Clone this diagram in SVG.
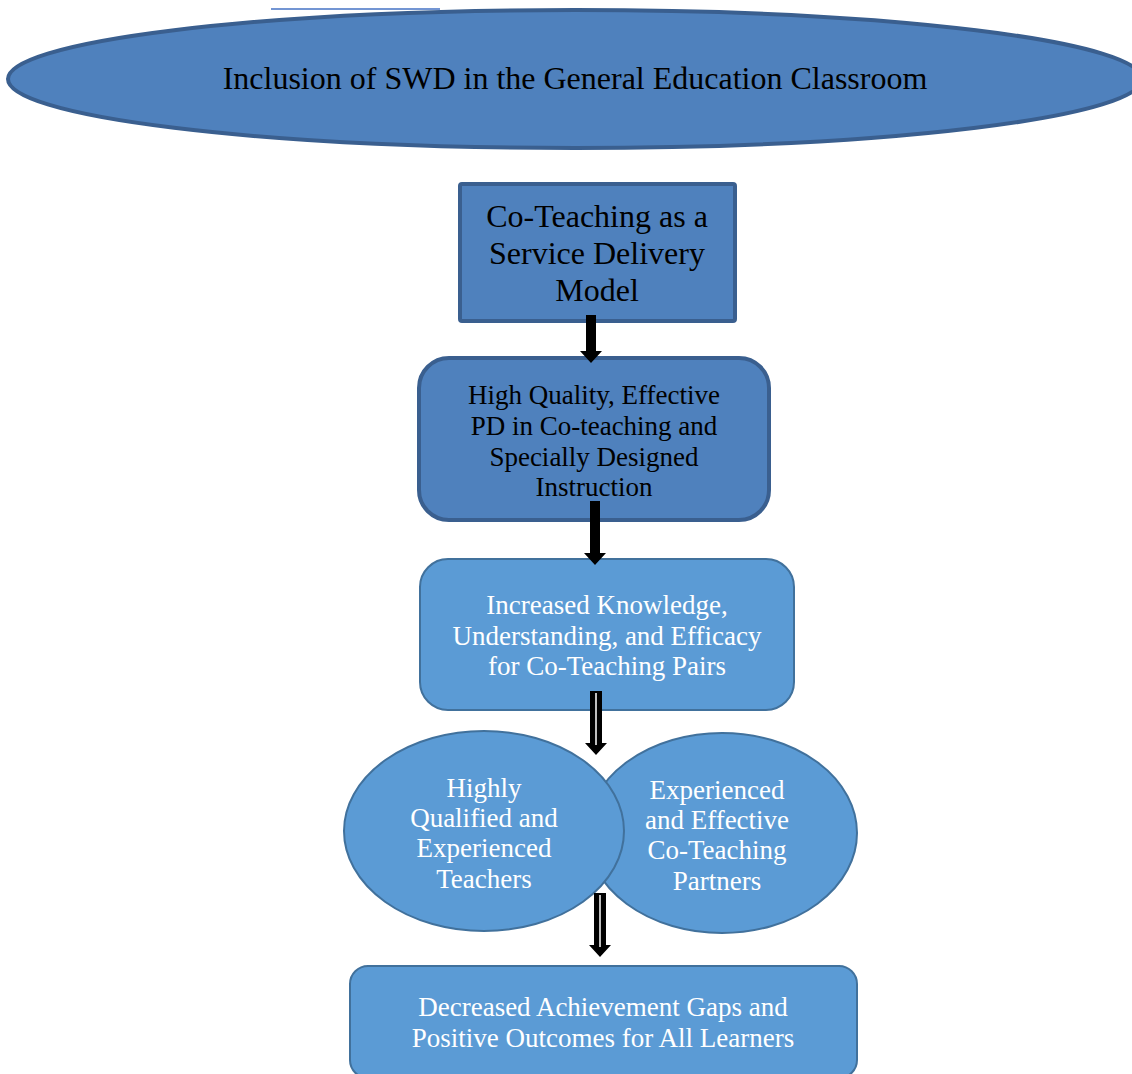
<svg xmlns="http://www.w3.org/2000/svg" width="1132" height="1074" viewBox="0 0 1132 1074">
<style>
text{font-family:"Liberation Serif","Times New Roman",serif;text-anchor:middle}
.dk{fill:#4f81bd;stroke:#3a5f8f;stroke-width:4}
.lt{fill:#5b9bd5;stroke:#41719c;stroke-width:2}
.bt{fill:#000;font-size:27px}
.wt{fill:#fff;font-size:27px}
</style>
<rect width="1132" height="1074" fill="#fff"/>
<line x1="271" y1="9" x2="440" y2="9" stroke="#4472c4" stroke-width="1.5"/>
<g id="n1">
<ellipse class="dk" cx="575" cy="79" rx="567" ry="69"/>
<text x="575" y="89" style="font-size:32px;fill:#000">Inclusion of SWD in the General Education Classroom</text>
</g>
<g id="n2">
<rect class="dk" x="460" y="184" width="275" height="137" rx="2"/>
<text class="bt" style="font-size:32px"><tspan x="597" y="227">Co-Teaching as a</tspan><tspan x="597" y="264">Service Delivery</tspan><tspan x="597" y="301">Model</tspan></text>
</g>
<g id="n3">
<rect class="dk" x="419" y="358" width="350" height="162" rx="30"/>
<text class="bt"><tspan x="594" y="404">High Quality, Effective</tspan><tspan x="594" y="435">PD in Co-teaching and</tspan><tspan x="594" y="466">Specially Designed</tspan><tspan x="594" y="496">Instruction</tspan></text>
</g>
<g id="n4">
<rect class="lt" x="420" y="559" width="374" height="151" rx="28"/>
<text class="wt"><tspan x="607" y="614">Increased Knowledge,</tspan><tspan x="607" y="645">Understanding, and Efficacy</tspan><tspan x="607" y="675">for Co-Teaching Pairs</tspan></text>
</g>
<g id="n6">
<ellipse class="lt" cx="722" cy="833" rx="135" ry="100"/>
<text class="wt"><tspan x="717" y="799">Experienced</tspan><tspan x="717" y="829">and Effective</tspan><tspan x="717" y="859">Co-Teaching</tspan><tspan x="717" y="890">Partners</tspan></text>
</g>
<g id="n5">
<ellipse class="lt" cx="484" cy="831" rx="140" ry="100"/>
<text class="wt"><tspan x="484" y="797">Highly</tspan><tspan x="484" y="827">Qualified and</tspan><tspan x="484" y="857">Experienced</tspan><tspan x="484" y="888">Teachers</tspan></text>
</g>
<g id="n7">
<rect class="lt" x="350" y="966" width="507" height="112" rx="18"/>
<text class="wt"><tspan x="603" y="1016">Decreased Achievement Gaps and</tspan><tspan x="603" y="1047">Positive Outcomes for All Learners</tspan></text>
</g>
<g id="connectors">
<polygon points="586,315 596,315 596,351 602,351 591,363 580,351 586,351" fill="#000"/>
<polygon points="590,501 600,501 600,553 606,553 595,565 584,553 590,553" fill="#000"/>
<polygon points="590,691 602,691 602,743 607,743 596,755 585,743 590,743" fill="#000"/>
<line x1="596" y1="693" x2="596" y2="745" stroke="#fff" stroke-width="1.5"/>
<polygon points="594,893 606,893 606,945 611,945 600,957 589,945 594,945" fill="#000"/>
<line x1="600" y1="895" x2="600" y2="947" stroke="#fff" stroke-width="1.5"/>
</g>
</svg>
